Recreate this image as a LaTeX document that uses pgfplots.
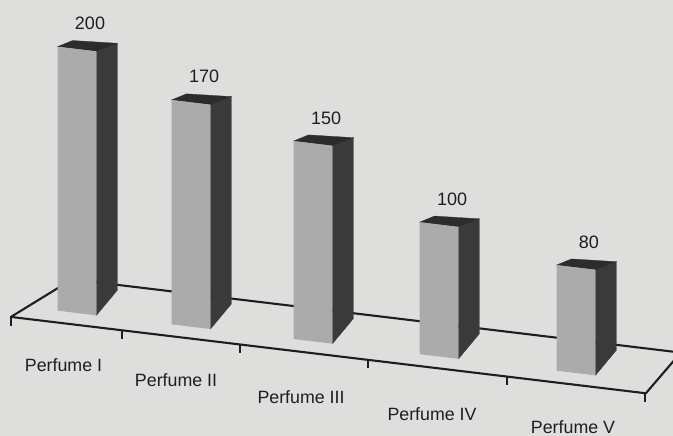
\documentclass[border=0pt]{standalone}
\usepackage{pgfplots}
\usepackage{pgfplotstable}
\pgfplotsset{compat=1.18}
\usepackage{fontspec}
\setmainfont{Liberation Sans}
\definecolor{paper}{HTML}{DEDFDD}
\definecolor{frontc}{HTML}{ABABAB}
\definecolor{sidec}{HTML}{3A3A3A}
\definecolor{topc}{HTML}{2C2C2C}
\definecolor{ink}{HTML}{1E1E1E}

\pgfplotstableread{
pos value
0.000 200
0.914 170
1.892 150
2.902 100
4.000 80
}\bars

\pgfplotstableread{
lx ly name
-0.108 -40.6 {Perfume I}
0.794 -41.7 {Perfume II}
1.796 -43.2 {Perfume III}
2.846 -44.2 {Perfume IV}
3.976 -41.4 {Perfume V}
}\cats

\begin{document}
\begin{tikzpicture}
\begin{axis}[
  x={(124.75pt,-15pt)}, y={(0pt,1.32pt)},
  xmin=-0.6, xmax=4.9, ymin=-50, ymax=230,
  hide axis, clip=false,
]
\fill[paper] (axis cs:0,0) ++(-77pt,-123pt) rectangle ++(673pt,436pt);
\path (axis cs:0,0) ++(-77pt,-123pt) coordinate (bbl);
\path (axis cs:0,0) ++(596pt,313pt) coordinate (btr);

% floor outline
\addplot[ink, line width=2.1pt, line join=round, mark=none]
  coordinates {(-0.04,25) (-0.53,-9) (4.56,-9) (4.84,25)} -- cycle;
% tick marks below the front edge
\pgfplotsinvokeforeach{-0.53,0.361,1.307,2.333,3.447,4.55}{
  \addplot[ink, line width=1.8pt, mark=none] coordinates {(#1,-9) (#1,-15.5)};
}

% bars
\pgfplotsinvokeforeach{0,...,4}{
  \pgfplotstablegetelem{#1}{pos}\of\bars \let\barpos\pgfplotsretval
  \pgfplotstablegetelem{#1}{value}\of\bars \let\barval\pgfplotsretval
  \pgfmathsetmacro\bxl{\barpos-0.156}
  \pgfmathsetmacro\bxr{\barpos+0.156}
  \pgfmathsetmacro\bxb{\barpos+0.324}
  \pgfmathsetmacro\bxt{\barpos-0.036}
  \pgfmathsetmacro\bvt{\barval+8}
  \pgfmathsetmacro\bvs{\barval+6}
  \addplot[fill=sidec, draw=sidec, line width=0.3pt, mark=none]
    coordinates {(\bxr,0) (\bxb,21) (\bxb,\bvt) (\bxr,\barval)} -- cycle;
  \addplot[fill=topc, draw=topc, line width=0.3pt, mark=none]
    coordinates {(\bxl,\barval) (\bxr,\barval) (\bxb,\bvt) (\bxt,\bvs)} -- cycle;
  \addplot[fill=frontc, draw=none, mark=none]
    coordinates {(\bxl,0) (\bxr,0) (\bxr,\barval) (\bxl,\barval)} -- cycle;
}

% value labels
\addplot[draw=none, mark=none, nodes near coords, point meta=explicit symbolic,
  every node near coord/.style={anchor=center, xshift=13pt, yshift=25.5pt,
    font=\fontsize{18}{20}\selectfont, text=ink}]
  table[x=pos, y=value, meta=value] {\bars};

% category labels
\addplot[draw=none, mark=none, nodes near coords, point meta=explicit symbolic,
  every node near coord/.style={anchor=center,
    font=\fontsize{17.8}{20}\selectfont, text=ink}]
  table[x=lx, y=ly, meta=name] {\cats};
\end{axis}
\pgfresetboundingbox
\path[use as bounding box] (bbl) rectangle (btr);
\end{tikzpicture}
\end{document}
